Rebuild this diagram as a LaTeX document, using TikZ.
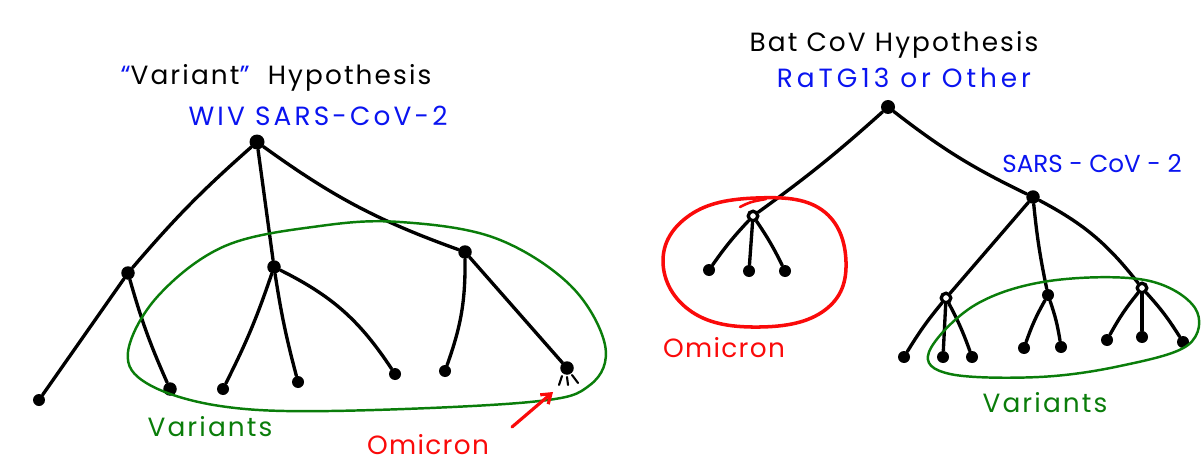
\documentclass[tikz,border=0pt]{standalone}
\usepackage{fontspec}
\setmainfont{Poppins}
\usetikzlibrary{arrows.meta}
\definecolor{myblue}{RGB}{10,20,240}
\definecolor{mygreen}{RGB}{10,125,10}
\definecolor{myred}{RGB}{250,10,10}
\begin{document}
\begin{tikzpicture}[x=0.02cm,y=-0.02cm,
  edge/.style={line width=1.9pt, line cap=round},
  leaf/.style={circle, fill=black, inner sep=0pt, minimum size=0.24cm},
  bigdot/.style={circle, fill=black, inner sep=0pt, minimum size=0.3cm},
  ring/.style={circle, draw=black, line width=1.9pt, fill=white, inner sep=0pt, minimum size=0.19cm},
  lbl/.style={font=\fontsize{15}{18}\selectfont\addfontfeature{LetterSpace=8}, anchor=base, inner sep=0pt},
  hull/.style={line width=1.4pt}
]
\useasboundingbox (0,0) rectangle (1202,476);

% ---------- left tree ----------
\node[lbl] (t1) at (276,85) {{\color{myblue}“}Variant{\color{myblue}”}\ \ Hypothesis};
\node[lbl, text=myblue, font=\fontsize{15}{18}\selectfont\addfontfeature{LetterSpace=12}] (t2) at (318,126) {WIV SARS-CoV-2};

\node[bigdot] (A) at (257,142) {};
\node[leaf, minimum size=0.27cm] (B) at (128,273) {};
\node[leaf, minimum size=0.27cm] (C) at (274,267) {};
\node[leaf, minimum size=0.27cm] (D) at (465,252) {};
\node[leaf] (B1) at (39,400) {};
\node[leaf, minimum size=0.27cm] (B2) at (170,389) {};
\node[leaf] (C1) at (223,389) {};
\node[leaf] (C2) at (298,382) {};
\node[leaf] (C3) at (395,374) {};
\node[leaf] (D1) at (445,371) {};
\node[leaf, minimum size=0.27cm] (D2) at (567,368) {};

\draw[edge] (A) to[bend right=4] (B);
\draw[edge] (A) -- (C);
\draw[edge] (A) to[bend right=8] (D);
\draw[edge] (B) -- (B1);
\draw[edge] (B) to[bend right=4] (B2);
\draw[edge] (C) to[bend left=4] (C1);
\draw[edge] (C) to[bend right=3] (C2);
\draw[edge] (C) to[bend left=15] (C3);
\draw[edge] (D) to[bend left=10] (D1);
\draw[edge] (D) -- (D2);
% little strokes under the Omicron leaf
\draw[line width=1.2pt, line cap=round] ([shift={(-5,8)}]D2.center) -- ++(-3,9);
\draw[line width=1.2pt, line cap=round] ([shift={(0,9)}]D2.center) -- ++(1,8);
\draw[line width=1.2pt, line cap=round] ([shift={(5,7)}]D2.center) -- ++(6,8);

\draw[hull, draw=mygreen] plot[smooth cycle, tension=0.6] coordinates {
  (128,352) (158,296) (225,246) (320,226) (400,222) (495,238) (570,285)
  (605,345) (590,385) (530,402) (330,411) (220,406) (148,384)};
\node[lbl, text=mygreen] (v1) at (210,436) {Variants};

\node[lbl, text=myred, font=\fontsize{15}{18}\selectfont\addfontfeature{LetterSpace=5}] (o1) at (428,454) {Omicron};
\coordinate (arS) at (512,427);
\coordinate (arE) at (553,392);
\draw[myred, line width=1.8pt, line cap=round, -{Straight Barb[length=5pt,width=7pt]}] (arS) -- (arE);

% ---------- right tree ----------
\node[lbl] (t3) at (894,52) {Bat CoV Hypothesis};
\node[lbl, text=myblue, font=\fontsize{15}{18}\selectfont\addfontfeature{LetterSpace=15}] (t4) at (904,88) {RaTG13 or Other};
\node[lbl, text=myblue, font=\fontsize{14}{17}\selectfont] (t5) at (1092,173) {SARS - CoV - 2};

\node[bigdot, minimum size=0.28cm] (E) at (888,107) {};
\node[ring] (F) at (753,216) {};
\node[bigdot, minimum size=0.27cm] (G) at (1033,197) {};
\node[leaf] (F1) at (709,270) {};
\node[leaf] (F2) at (749,271) {};
\node[leaf] (F3) at (785,271) {};
\node[ring] (H) at (946,298) {};
\node[leaf] (I) at (1048,295) {};
\node[ring] (J) at (1142,288) {};
\node[leaf] (H1) at (904,357) {};
\node[leaf] (H2) at (943,357) {};
\node[leaf] (H3) at (972,357) {};
\node[leaf] (I1) at (1024,348) {};
\node[leaf] (I2) at (1061,347) {};
\node[leaf] (J1) at (1107,340) {};
\node[leaf] (J2) at (1142,337) {};
\node[leaf] (J3) at (1183,342) {};

\draw[edge] (E) to[bend left=3] (F);
\draw[edge] (E) to[bend right=6] (G);
\draw[edge] (F) to[bend right=4] (F1);
\draw[edge] (F) -- (F2);
\draw[edge] (F) to[bend left=4] (F3);
\draw[edge] (G) -- (H);
\draw[edge] (G) to[bend right=3] (I);
\draw[edge] (G) to[bend left=12] (J);
\draw[edge] (H) to[bend right=4] (H1);
\draw[edge] (H) -- (H2);
\draw[edge] (H) to[bend left=4] (H3);
\draw[edge] (I) to[bend right=5] (I1);
\draw[edge] (I) to[bend left=5] (I2);
\draw[edge] (J) to[bend right=5] (J1);
\draw[edge] (J) -- (J2);
\draw[edge] (J) to[bend left=5] (J3);

\draw[hull, draw=myred, line width=2pt] plot[smooth cycle, tension=0.7] coordinates {
  (663,262) (690,215) (756,198) (822,210) (846,262) (825,310) (760,327) (692,312)};
\draw[myred, line width=1.5pt, line cap=round] (740,207) .. controls (750,202) .. (766,199);
\node[lbl, text=myred, font=\fontsize{15}{18}\selectfont\addfontfeature{LetterSpace=5}] (o2) at (724,357) {Omicron};

\draw[hull, draw=mygreen] plot[smooth cycle, tension=0.6] coordinates {
  (929,352) (975,305) (1049,281) (1145,280) (1195,308) (1188,345)
  (1120,366) (1039,377) (950,374)};
\node[lbl, text=mygreen] (v2) at (1045,412) {Variants};
\end{tikzpicture}
\end{document}
